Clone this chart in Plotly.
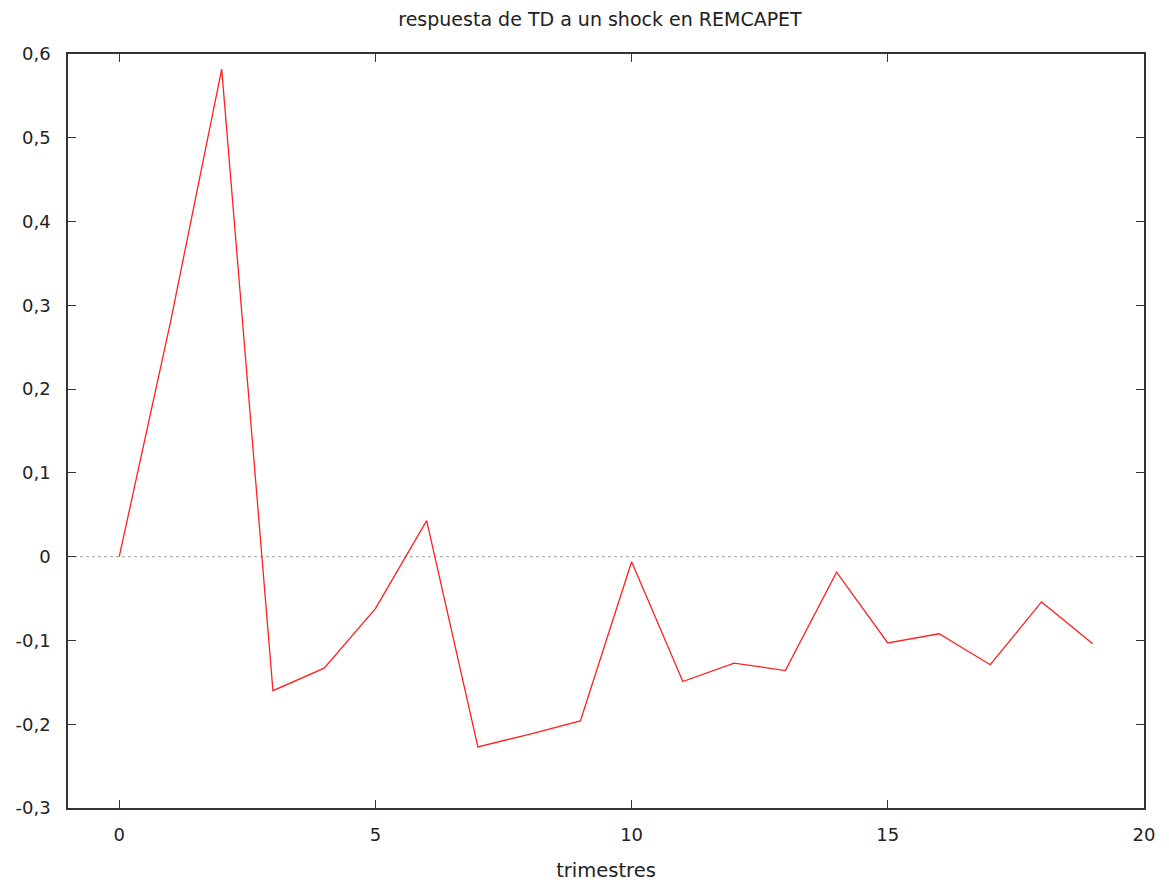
import plotly.graph_objects as go

periods = list(range(20))
response = [0.0, 0.28, 0.582, -0.160, -0.133, -0.062, 0.043, -0.227, -0.212, -0.196,
            -0.006, -0.149, -0.127, -0.136, -0.0185, -0.103, -0.092, -0.129, -0.054, -0.104]

y_tickvals = [0.6, 0.5, 0.4, 0.3, 0.2, 0.1, 0.0, -0.1, -0.2, -0.3]
y_ticktext = ["0,6", "0,5", "0,4", "0,3", "0,2", "0,1", "0", "-0,1", "-0,2", "-0,3"]
x_tickvals = [0, 5, 10, 15, 20]
x_ticktext = ["0", "5", "10", "15", "20"]

title_text = "respuesta de TD a un shock en REMCAPET"
x_title = "trimestres"

fig = go.Figure()
fig.add_hline(y=0, line=dict(color="#a0a0a0", width=1, dash="dot"), layer="below")
fig.add_trace(go.Scatter(x=periods, y=response, mode="lines",
                         line=dict(color="#ff2020", width=1.3), showlegend=False))

font_family = "DejaVu Sans, Verdana, sans-serif"
W, H = 1161, 874
fig.update_layout(
    width=W, height=H,
    margin=dict(l=60, r=25, t=46, b=74),
    paper_bgcolor="white", plot_bgcolor="white",
    title=dict(text=title_text, x=592 / W, xanchor="center", y=1 - 11 / H, yanchor="middle",
               font=dict(family=font_family, size=19, color="#222222")),
    font=dict(family=font_family, size=18, color="#222222"),
    xaxis=dict(range=[-1, 20], tickvals=x_tickvals, ticktext=x_ticktext, automargin=False,
               showgrid=False, zeroline=False, showline=True, linecolor="#333333", linewidth=1.5,
               mirror="ticks", ticks="inside", ticklen=8, tickcolor="#333333", tickwidth=1,
               ticklabelstandoff=10,
               title=dict(text=x_title, font=dict(family=font_family, size=19.5), standoff=19)),
    yaxis=dict(range=[-0.3, 0.6], tickvals=y_tickvals, ticktext=y_ticktext, automargin=False,
               showgrid=False, zeroline=False, showline=True, linecolor="#333333", linewidth=1.5,
               mirror="ticks", ticks="inside", ticklen=8, tickcolor="#333333", tickwidth=1,
               ticklabelstandoff=12),
)

fig.write_html("out.html")
